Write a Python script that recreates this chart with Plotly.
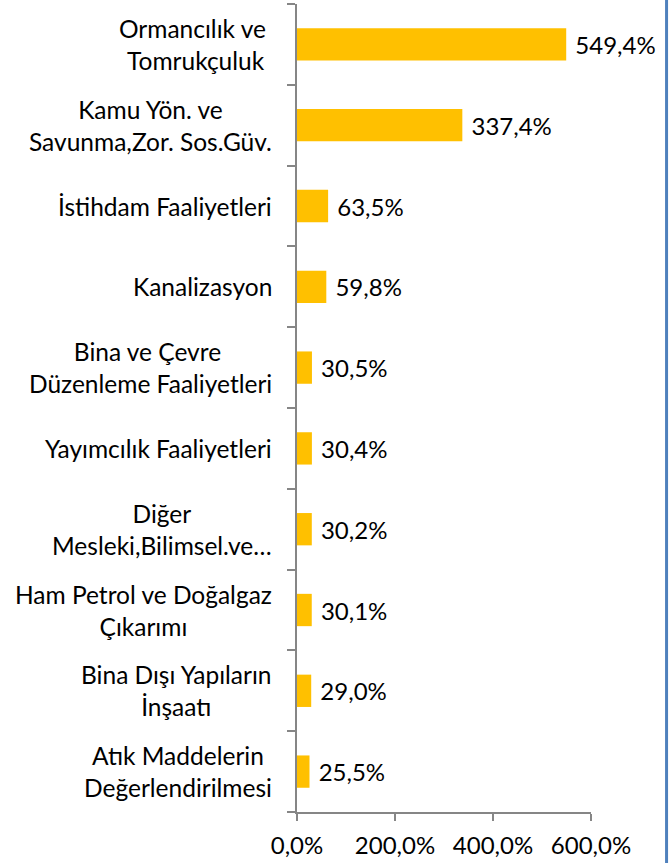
import plotly.graph_objects as go

categories = [
    "Ormancılık ve <br>Tomrukçuluk",
    "Kamu Yön. ve<br>Savunma,Zor. Sos.Güv.",
    "İstihdam Faaliyetleri",
    "Kanalizasyon",
    "Bina ve Çevre <br>Düzenleme Faaliyetleri",
    "Yayımcılık Faaliyetleri",
    "Diğer<br>Mesleki,Bilimsel.ve…",
    "Ham Petrol ve Doğalgaz<br>Çıkarımı",
    "Bina Dışı Yapıların<br>İnşaatı",
    "Atık Maddelerin<br>Değerlendirilmesi",
]
values = [549.4, 337.4, 63.5, 59.8, 30.5, 30.4, 30.2, 30.1, 29.0, 25.5]
tick_vals = [0, 2, 4, 6]

FONT = "Lato"
ids = list(range(len(categories)))

fig = go.Figure(go.Bar(
    x=[v / 100 for v in values],
    y=ids,
    orientation="h",
    marker=dict(color="#FFC000", line=dict(width=0)),
    text=[" " + f"{v:.1f}".replace(".", ",") + "%" for v in values],
    textposition="outside",
    textfont=dict(family=FONT, size=24, color="#000000"),
    cliponaxis=False,
    hoverinfo="skip",
))

for i, c in enumerate(categories):
    fig.add_annotation(
        x=0, xref="paper", y=i, yref="y",
        text=c, showarrow=False,
        xanchor="right", yanchor="middle", align="center",
        xshift=-23,
        font=dict(family=FONT, size=24.5, color="#000000"),
    )

fig.add_shape(
    type="line", xref="paper", yref="paper",
    x0=1.257, x1=1.257, y0=-0.07, y1=1.01,
    line=dict(color="#4F81BD", width=3),
)

fig.update_layout(
    width=670, height=863,
    margin=dict(l=297, r=79, t=4, b=51),
    plot_bgcolor="white", paper_bgcolor="white",
    separators=",.",
    showlegend=False,
    bargap=0.6,
    xaxis=dict(
        range=[0, 6], tickvals=tick_vals, tickformat=".1%",
        showgrid=False, zeroline=False,
        showline=True, linecolor="#868686", linewidth=1.5,
        ticks="outside", ticklen=7, tickcolor="#868686", tickwidth=1.5,
        ticklabelstandoff=4,
        tickfont=dict(family=FONT, size=24, color="#000000"),
    ),
    yaxis=dict(
        range=[len(categories) - 0.5, -0.5],
        tickvals=[i - 0.5 for i in range(len(categories) + 1)],
        showticklabels=False,
        showgrid=False, zeroline=False,
        showline=True, linecolor="#868686", linewidth=1.5,
        ticks="outside", ticklen=8, tickcolor="#868686", tickwidth=1.5,
    ),
)

fig.write_html("out.html", config={"displayModeBar": False},
               post_script="document.body.style.margin='0';")
